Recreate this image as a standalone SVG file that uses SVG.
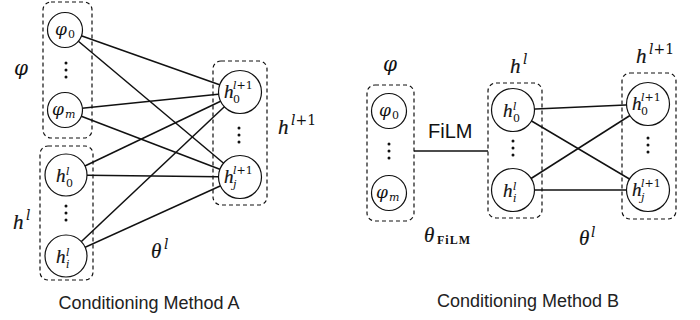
<svg xmlns="http://www.w3.org/2000/svg" width="700" height="320" viewBox="0 0 700 320">
<style>
.box{fill:none;stroke:#111;stroke-width:1.2;stroke-dasharray:4 3}
.nd{fill:#fff;stroke:#111;stroke-width:1.2}
.ln{stroke:#111;stroke-width:1.5;fill:none}
.dot{fill:#111}
.m{font-family:"Liberation Serif","DejaVu Serif",serif;font-style:italic;fill:#111;stroke:#111;stroke-width:0.2}
.d{font-family:"DejaVu Serif","Liberation Serif",serif;font-style:italic;fill:#111}
.n{font-size:19px}
.big{font-size:21px}
.s{font-size:11px}
.ss{font-size:14px}
.up{font-style:normal}
.cap{font-family:"Liberation Sans",Arial,sans-serif;font-size:18px;fill:#222}
</style>
<rect width="700" height="320" fill="#fff"/>

<g id="A-phi-group">
<rect class="box" x="43" y="2" width="49" height="136" rx="8"/>
<circle class="dot" cx="66" cy="63" r="1.5"/><circle class="dot" cx="66" cy="70" r="1.5"/><circle class="dot" cx="66" cy="77" r="1.5"/>
</g>
<g id="A-hl-group">
<rect class="box" x="40" y="146" width="53" height="134" rx="8"/>
<circle class="dot" cx="66" cy="206" r="1.5"/><circle class="dot" cx="66" cy="213" r="1.5"/><circle class="dot" cx="66" cy="220" r="1.5"/>
</g>
<g id="A-hl1-group">
<rect class="box" x="213" y="61" width="54" height="144" rx="8"/>
<circle class="dot" cx="239" cy="128" r="1.5"/><circle class="dot" cx="239" cy="135" r="1.5"/><circle class="dot" cx="239" cy="142" r="1.5"/>
</g>

<g id="B-phi-group">
<rect class="box" x="367" y="85" width="47" height="136" rx="8"/>
<circle class="dot" cx="389" cy="144" r="1.5"/><circle class="dot" cx="389" cy="151" r="1.5"/><circle class="dot" cx="389" cy="158" r="1.5"/>
</g>
<g id="B-hl-group">
<rect class="box" x="488" y="83" width="54" height="135" rx="8"/>
<circle class="dot" cx="513" cy="141" r="1.5"/><circle class="dot" cx="513" cy="148" r="1.5"/><circle class="dot" cx="513" cy="155" r="1.5"/>
</g>
<g id="B-hl1-group">
<rect class="box" x="622" y="73" width="54" height="146" rx="8"/>
<circle class="dot" cx="648" cy="138" r="1.5"/><circle class="dot" cx="648" cy="145" r="1.5"/><circle class="dot" cx="648" cy="152" r="1.5"/>
</g>

<g id="connectors">
<line class="ln" x1="65" y1="30" x2="240" y2="92"/>
<line class="ln" x1="65" y1="30" x2="240" y2="177"/>
<line class="ln" x1="65" y1="110" x2="240" y2="92"/>
<line class="ln" x1="65" y1="110" x2="240" y2="177"/>
<line class="ln" x1="66" y1="175" x2="240" y2="92"/>
<line class="ln" x1="66" y1="175" x2="240" y2="177"/>
<line class="ln" x1="66" y1="256" x2="240" y2="92"/>
<line class="ln" x1="66" y1="256" x2="240" y2="177"/>
<line class="ln" x1="414" y1="151" x2="488" y2="151"/>
<line class="ln" x1="513" y1="110" x2="648" y2="104"/>
<line class="ln" x1="513" y1="110" x2="648" y2="190"/>
<line class="ln" x1="513" y1="190" x2="648" y2="104"/>
<line class="ln" x1="513" y1="190" x2="648" y2="190"/>
</g>

<g id="A-phi0">
<circle class="nd" cx="65" cy="30" r="17.5"/>
<text class="d" font-size="17" x="55" y="35">φ</text><text class="d s up" x="68" y="38">0</text>
</g>
<g id="A-phim">
<circle class="nd" cx="65" cy="110" r="17.5"/>
<text class="d" font-size="17" x="52" y="115">φ</text><text class="d s" x="65" y="118">m</text>
</g>
<g id="A-h0l">
<circle class="nd" cx="66" cy="175" r="21"/>
<text class="m n" x="56" y="182">h</text><text class="d s" x="66" y="175">l</text><text class="d s up" x="66" y="187">0</text>
</g>
<g id="A-hil">
<circle class="nd" cx="66" cy="256" r="21"/>
<text class="m n" x="56" y="263">h</text><text class="d s" x="66" y="256">l</text><text class="d s" x="66" y="268">i</text>
</g>
<g id="A-h0l1">
<circle class="nd" cx="240" cy="92" r="21.5"/>
<text class="m n" x="224" y="98">h</text><text class="d s" x="233" y="89">l<tspan class="up">+1</tspan></text><text class="d s up" x="233" y="103">0</text>
</g>
<g id="A-hjl1">
<circle class="nd" cx="240" cy="177" r="21.5"/>
<text class="m n" x="224" y="183">h</text><text class="d s" x="233" y="174">l<tspan class="up">+1</tspan></text><text class="d s" x="233" y="188">j</text>
</g>

<g id="B-phi0">
<circle class="nd" cx="389" cy="111" r="17.5"/>
<text class="d" font-size="17" x="379" y="116">φ</text><text class="d s up" x="392" y="119">0</text>
</g>
<g id="B-phim">
<circle class="nd" cx="389" cy="193" r="17.5"/>
<text class="d" font-size="17" x="376" y="198">φ</text><text class="d s" x="389" y="201">m</text>
</g>
<g id="B-h0l">
<circle class="nd" cx="513" cy="110" r="21.5"/>
<text class="m n" x="503" y="117">h</text><text class="d s" x="513" y="110">l</text><text class="d s up" x="513" y="122">0</text>
</g>
<g id="B-hil">
<circle class="nd" cx="513" cy="190" r="21.5"/>
<text class="m n" x="503" y="197">h</text><text class="d s" x="513" y="190">l</text><text class="d s" x="513" y="202">i</text>
</g>
<g id="B-h0l1">
<circle class="nd" cx="648" cy="104" r="21.5"/>
<text class="m n" x="632" y="110">h</text><text class="d s" x="641" y="101">l<tspan class="up">+1</tspan></text><text class="d s up" x="641" y="115">0</text>
</g>
<g id="B-hjl1">
<circle class="nd" cx="648" cy="190" r="21.5"/>
<text class="m n" x="632" y="196">h</text><text class="d s" x="641" y="187">l<tspan class="up">+1</tspan></text><text class="d s" x="641" y="201">j</text>
</g>

<g id="labels">
<text class="d" font-size="20" x="14" y="75">φ</text>
<text class="m big" x="278" y="134">h</text><text class="d ss" x="291" y="125">l<tspan class="up">+1</tspan></text>
<text class="m big" x="13" y="229">h</text><text class="d ss" x="26" y="220">l</text>
<text class="m big" x="151" y="258">θ</text><text class="d ss" x="164" y="249">l</text>
<text class="cap" x="149" y="309" text-anchor="middle">Conditioning Method A</text>

<text class="d" font-size="20" x="383" y="71">φ</text>
<text class="m big" x="510" y="73">h</text><text class="d ss" x="523" y="64">l</text>
<text class="m big" x="636" y="63">h</text><text class="d ss" x="649" y="54">l<tspan class="up">+1</tspan></text>
<text x="428" y="138" font-family="Liberation Sans,Arial,sans-serif" font-size="20" fill="#111">FiLM</text>
<text class="m big" x="424" y="242">θ</text><text x="437" y="244" font-family="Liberation Serif,serif" font-weight="bold" font-size="12" letter-spacing="1" fill="#111">FiLM</text>
<text class="m big" x="579" y="245">θ</text><text class="d ss" x="591" y="237">l</text>
<text class="cap" x="528" y="307" text-anchor="middle">Conditioning Method B</text>
</g>
</svg>
